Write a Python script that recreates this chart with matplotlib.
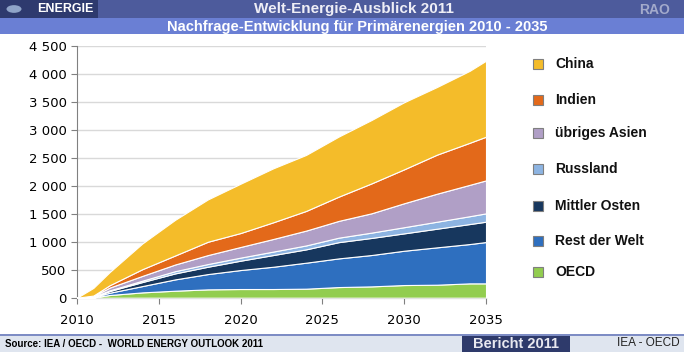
import matplotlib
matplotlib.use("Agg")
import matplotlib.pyplot as plt
from matplotlib.patches import Rectangle, Circle
from matplotlib.ticker import FuncFormatter

# -------------------- Data --------------------

years = [2010, 2011, 2012, 2014, 2016, 2018, 2020, 2022, 2024, 2026, 2028, 2030, 2032, 2034, 2035]

oecd = [0, 5, 48, 95, 125, 149, 155, 155, 161, 190, 202, 226, 232, 256, 256]
rest_welt = [0, 5, 41, 113, 202, 273, 339, 398, 464, 512, 560, 613, 667, 702, 738]
mittler_osten = [0, 5, 30, 72, 107, 131, 167, 209, 238, 290, 305, 310, 333, 357, 363]
russland = [0, 3, 12, 25, 40, 48, 55, 62, 70, 80, 95, 110, 125, 140, 149]
asien = [0, 10, 50, 85, 119, 160, 190, 225, 265, 300, 345, 428, 500, 560, 589]
indien = [0, 10, 42, 120, 161, 238, 249, 298, 351, 433, 534, 606, 697, 751, 780]
china = [0, 137, 236, 460, 637, 756, 881, 964, 1000, 1073, 1132, 1198, 1208, 1285, 1357]

names = ["OECD", "Rest der Welt", "Mittler Osten", "Russland", "übriges Asien", "Indien", "China"]
colors = ["#92cd4f", "#2e6fbf", "#17375e", "#8db4e2", "#b09fc6", "#e3691a", "#f4bc2a"]

W, H = 684, 352
NARROW = ["Liberation Sans Narrow", "Liberation Sans", "DejaVu Sans"]
BOLD = ["Liberation Sans", "DejaVu Sans"]


def box(x, y):
    # pixel coords (top-left origin) -> figure fraction
    return x / W, 1 - y / H


def rect(fig, x0, y0, x1, y1, color):
    fx, fy = box(x0, y1)
    fig.patches.append(Rectangle((fx, fy), (x1 - x0) / W, (y1 - y0) / H,
                                 transform=fig.transFigure, color=color, lw=0, zorder=0))


def main():
    fig = plt.figure(figsize=(W / 100, H / 100), dpi=100)

    # -------------------- Header --------------------
    rect(fig, 0, 0, W, 18, "#4d5b9c")
    rect(fig, 0, 0, 98, 18, "#2e3a6e")
    rect(fig, 0, 18, W, 34, "#6a7fd4")
    cx, cy = box(14, 9)
    fig.patches.append(Circle((cx, cy), 7.5 / W, transform=fig.transFigure,
                              color="#8fa4c8", lw=0, zorder=1))
    fig.text(*box(37, 9.5), "ENERGIE", color="white", fontsize=9, fontweight="bold",
             family=NARROW, va="center", ha="left")
    fig.text(*box(354, 9.5), "Welt-Energie-Ausblick 2011", color="#eeeef6", fontsize=11,
             fontweight="bold", family=NARROW, va="center", ha="center")
    fig.text(*box(670, 10), "RAO", color="#a3aacb", fontsize=10, fontweight="bold",
             family=NARROW, va="center", ha="right")
    fig.text(*box(357, 26.5), "Nachfrage-Entwicklung für Primärenergien 2010 - 2035",
             color="white", fontsize=10.5, fontweight="bold", family=NARROW,
             va="center", ha="center")

    # -------------------- Footer --------------------
    rect(fig, 0, 335, W, H, "#dfe5ef")
    rect(fig, 0, 334, W, 335.5, "#7d8cc4")
    rect(fig, 462, 335.5, 570, H, "#2e3a6b")
    fig.text(*box(5, 344), "Source: IEA / OECD -  WORLD ENERGY OUTLOOK 2011", color="black",
             fontsize=7, fontweight="bold", family=BOLD, va="center", ha="left")
    fig.text(*box(516, 344), "Bericht 2011", color="#e8e8f0", fontsize=10.5,
             fontweight="bold", family=BOLD, va="center", ha="center")
    fig.text(*box(680, 343), "IEA - OECD", color="#222222", fontsize=8.5,
             family=NARROW, va="center", ha="right")

    # -------------------- Chart --------------------
    l, t = box(77, 45.7)
    r, b = box(486, 297.7)
    ax = fig.add_axes([l, b, r - l, t - b])
    layers = [oecd, rest_welt, mittler_osten, russland, asien, indien, china]
    ax.stackplot(years, layers, colors=colors, edgecolor="white", linewidth=0.8, zorder=3)

    ax.set_xlim(2010, 2035)
    ax.set_ylim(0, 4500)
    ax.set_xticks(range(2010, 2036, 5))
    ax.set_yticks(range(0, 4501, 500))
    ax.yaxis.set_major_formatter(FuncFormatter(lambda v, p: f"{int(v):,}".replace(",", " ")))
    ax.grid(axis="y", color="#d9d9d9", lw=1, zorder=0)
    for s in ["top", "right"]:
        ax.spines[s].set_visible(False)
    for s in ["left", "bottom"]:
        ax.spines[s].set_color("#808080")
    ax.tick_params(axis="both", colors="#808080", labelcolor="black", length=4,
                   labelsize=9.5, direction="out")
    ax.tick_params(axis="x", pad=8)
    ax.set_axisbelow(True)

    # -------------------- Legend --------------------
    legend_y = [272, 241, 206, 169, 133, 100, 64]
    for name, c, ly in zip(names, colors, legend_y):
        fx, fy = box(533, ly + 5)
        fig.patches.append(Rectangle((fx, fy), 10 / W, 10 / H, transform=fig.transFigure,
                                     facecolor=c, edgecolor="#7f7f7f", lw=0.8))
        fig.text(*box(555, ly), name, fontsize=10, fontweight="bold", family=BOLD,
                 va="center", ha="left", color="#111111")

    fig.savefig("out.png", dpi=100)


if __name__ == "__main__":
    main()
